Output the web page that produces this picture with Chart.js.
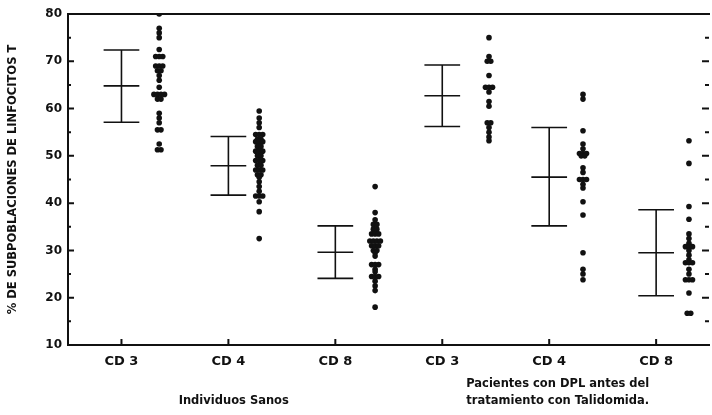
<!DOCTYPE html>
<html lang="es">
<head>
  <meta charset="UTF-8" />
  <title>Subpoblaciones de linfocitos T</title>
  <script src="https://cdn.jsdelivr.net/npm/chart.js"></script>
  <style>
    html, body { margin: 0; padding: 0; background: #fff; }
    canvas { display: block; }
  </style>
</head>
<body>
  <canvas id="chart" width="712" height="415"></canvas>

  <script>
    // categorias del eje x y rotulos de grupo
    const categories = ['CD 3', 'CD 4', 'CD 8', 'CD 3', 'CD 4', 'CD 8'];
    const groupLabels = [['', 'Individuos Sanos'], ['Pacientes con DPL antes del', 'tratamiento con Talidomida.']];
    const groupCenters = [1.55, 4.58];
    const yTicks = [10, 20, 30, 40, 50, 60, 70, 80];

    // media y limites de las barras
    const means = [64.8, 47.9, 29.6, 62.7, 45.5, 29.5];
    const upper = [72.4, 54.1, 35.2, 69.2, 56.0, 38.6];
    const lower = [57.1, 41.7, 24.1, 56.2, 35.2, 20.4];

    // valores individuales (%)
    const sanosCD3 = [80, 77, 76, 75, 72.5, 71, 71, 71, 69, 69, 69, 68, 68, 67, 66, 64.5, 63, 63, 63, 63, 62, 62, 59, 58, 57, 55.5, 55.5, 52.5, 51.3, 51.3];
    const sanosCD4 = [59.5, 58, 57, 56, 54.5, 54.5, 54.5, 53.5, 53.5, 53, 53, 53, 52, 52, 51, 51, 51, 50, 50, 49, 49, 49, 48, 48, 47, 47, 47, 46, 46, 45.5, 44.5, 43.5, 42.5, 41.5, 41.5, 41.5, 40.3, 38.2, 32.5];
    const sanosCD8 = [43.5, 38, 36.5, 35.5, 35.5, 34.5, 34.5, 33.5, 33.5, 33.5, 32, 32, 32, 32, 31, 31, 31, 30, 30, 29.5, 28.8, 27, 27, 27, 26, 25.5, 24.5, 24.5, 24.5, 23.5, 22.5, 21.5, 18];
    const pacCD3 = [75, 71, 70, 70, 67, 64.5, 64.5, 64.5, 63.5, 61.5, 60.5, 57, 57, 56, 55, 54, 53.2];
    const pacCD4 = [63, 62, 55.3, 52.5, 51.5, 50.5, 50.5, 50.5, 50, 50, 47.5, 46.5, 45, 45, 45, 44, 43.2, 40.3, 37.5, 29.5, 26, 25, 23.8];
    const pacCD8 = [53.2, 48.4, 39.3, 36.6, 33.5, 32.5, 31.5, 30.8, 30.8, 30.8, 30, 29, 28, 27.4, 27.4, 27.4, 26, 25, 23.8, 23.8, 23.8, 21, 16.7, 16.7];

    const columns = [sanosCD3, sanosCD4, sanosCD8, pacCD3, pacCD4, pacCD8];

    // layout (unidades de categoria)
    const dotShift = [0.353, 0.288, 0.372, 0.437, 0.316, 0.307];
    const dupGap = 0.033;
    const capHalf = 0.167;
    const xMax = 5.985;
    const ink = '#111';

    // puntos repetidos se abren hacia los lados
    function spread(values, i) {
      const counts = {}, seen = {};
      values.forEach(v => { counts[v] = (counts[v] || 0) + 1; });
      return values.map(v => {
        const j = seen[v] = (seen[v] || 0) + 1;
        const off = (j - 1 - (counts[v] - 1) / 2) * dupGap;
        return { x: i + 0.5 + dotShift[i] + off, y: v };
      });
    }

    const framePlugin = {
      id: 'frame',
      beforeDatasetsDraw(chart) {
        const { ctx, chartArea: a, scales: { x, y } } = chart;
        ctx.save();
        ctx.strokeStyle = ink;
        ctx.lineWidth = 2;
        ctx.beginPath();
        ctx.moveTo(a.right + 2, a.top);
        ctx.lineTo(a.left, a.top);
        ctx.lineTo(a.left, a.bottom);
        ctx.lineTo(a.right + 2, a.bottom);
        for (let v = 10; v <= 80; v += 5) {
          const py = y.getPixelForValue(v);
          const len = v % 10 === 0 ? 6 : 3;
          ctx.moveTo(a.left, py); ctx.lineTo(a.left + len, py);
          ctx.moveTo(a.right + 1, py); ctx.lineTo(a.right - len, py);
        }
        categories.forEach((c, i) => {
          const px = x.getPixelForValue(i + 0.5);
          ctx.moveTo(px, a.bottom); ctx.lineTo(px, a.bottom - 6);
        });
        ctx.stroke();

        // barras: media y limites
        ctx.lineWidth = 1.6;
        ctx.beginPath();
        means.forEach((m, i) => {
          const cx = x.getPixelForValue(i + 0.5);
          const l = x.getPixelForValue(i + 0.5 - capHalf);
          const r = x.getPixelForValue(i + 0.5 + capHalf);
          const yt = y.getPixelForValue(upper[i]);
          const ym = y.getPixelForValue(m);
          const yb = y.getPixelForValue(lower[i]);
          ctx.moveTo(cx, yt); ctx.lineTo(cx, yb);
          [yt, ym, yb].forEach(py => { ctx.moveTo(l, py); ctx.lineTo(r, py); });
        });
        ctx.stroke();
        ctx.restore();
      }
    };

    const tickFont = { family: 'DejaVu Sans', weight: 'bold', size: 12 };

    new Chart(document.getElementById('chart').getContext('2d'), {
      type: 'scatter',
      data: {
        datasets: columns.map((vals, i) => ({
          label: categories[i],
          data: spread(vals, i),
          pointRadius: 2.8,
          pointBorderWidth: 0,
          backgroundColor: ink,
          borderColor: ink
        }))
      },
      options: {
        responsive: false,
        animation: false,
        layout: { padding: { top: 14, right: 0, left: 0, bottom: 0 } },
        plugins: { legend: { display: false }, tooltip: { enabled: false } },
        scales: {
          x: {
            type: 'linear', min: 0, max: xMax, position: 'bottom',
            grid: { display: false, drawTicks: false }, border: { display: false },
            afterBuildTicks: axis => { axis.ticks = categories.map((c, i) => ({ value: i + 0.5 })); },
            afterFit: axis => { axis.height = 25; },
            ticks: {
              autoSkip: false, maxRotation: 0, padding: 9, color: ink,
              font: { family: 'DejaVu Sans', weight: 'bold', size: 13 },
              callback: (v, i) => categories[i]
            }
          },
          grupo: {
            type: 'linear', axis: 'x', min: 0, max: xMax, position: 'bottom', weight: 1,
            grid: { display: false, drawTicks: false }, border: { display: false },
            afterBuildTicks: axis => { axis.ticks = groupCenters.map(v => ({ value: v })); },
            afterFit: axis => { axis.height = 45; },
            ticks: {
              autoSkip: false, maxRotation: 0, padding: 5, color: ink,
              font: { family: 'DejaVu Sans', weight: 'bold', size: 11.5, lineHeight: 1.5 },
              callback: (v, i) => groupLabels[i]
            }
          },
          y: {
            min: 10, max: 80,
            grid: { display: false, drawTicks: false }, border: { display: false },
            afterBuildTicks: axis => { axis.ticks = yTicks.map(v => ({ value: v })); },
            afterFit: axis => { axis.width = 68; },
            ticks: { padding: 6, color: ink, font: tickFont },
            title: {
              display: true, text: '% DE SUBPOBLACIONES DE LINFOCITOS T', color: ink,
              font: { family: 'DejaVu Sans', weight: 'bold', size: 11.5 },
              padding: { top: 6, bottom: 0 }
            }
          }
        }
      },
      plugins: [framePlugin]
    });
  </script>
</body>
</html>
